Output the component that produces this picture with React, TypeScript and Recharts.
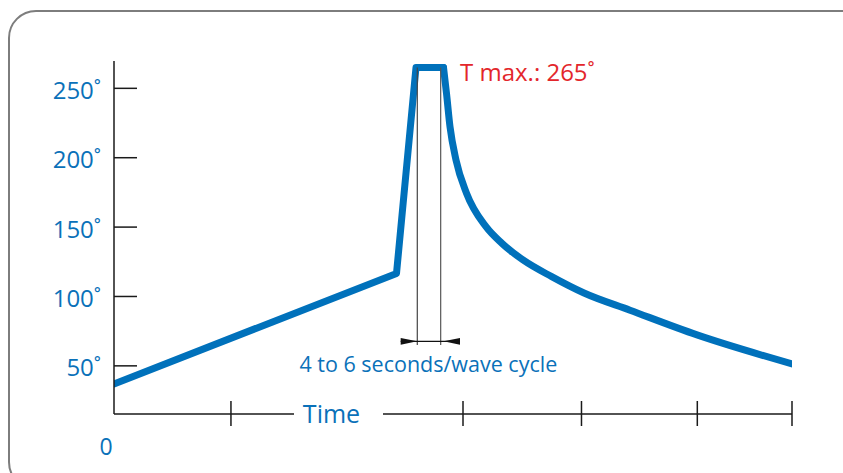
import React from 'react';
import { LineChart, Line, XAxis, YAxis, ReferenceLine, ReferenceDot } from 'recharts';

// time runs in arbitrary units, temperature in degrees
const rampTime = [0, 50, 53.45, 58.32];
const rampTemp = [37, 116.6, 265, 265];
const decayTime = [58.32, 58.85, 59.47, 60.53, 62.39, 65.84, 68.67, 72.39, 77.47, 83.19, 91.33, 103.19, 120];
const decayTemp = [265, 246.4, 222.3, 198.4, 174.4, 150.3, 138.3, 126.3, 114.3, 102.5, 90.1, 72.3, 51.4];

const timeTicks = [0, 20.7, 61.77, 82.74, 103.24, 120];
const tempTicks = [50, 100, 150, 200, 250];

const waveStart = 53.68;
const waveEnd = 57.82;
const guideBottom = 65.1;
const dimLevel = 67.7;
const dimFrom = 50.74;
const dimTo = 61.24;
const tMax = 265;

const BLUE = '#0a71b9';
const LINE = '#0071bb';
const RED = '#e3262b';
const FONT = '"Open Sans", sans-serif';

const rampData = rampTime.map((t, i) => ({ t, temp: rampTemp[i] }));
const decayData = decayTime.map((t, i) => ({ t, temp: decayTemp[i] }));

const YTick = (props: any) => {
  const { x, y, payload } = props;
  return (
    <g>
      <line x1={x} x2={x + 23} y1={y} y2={y} stroke="#1a1a1a" strokeWidth={1.5} />
      <text x={x - 13} y={y + 10.5} textAnchor="end" fill={BLUE} fontSize={24} fontFamily={FONT}>
        {payload.value}˚
      </text>
    </g>
  );
};

const XTick = (props: any) => {
  const { x, y, payload } = props;
  if (payload.value === 0) {
    return (
      <text x={x - 8} y={y + 41} textAnchor="middle" fill={BLUE} fontSize={23} fontFamily={FONT}>
        0
      </text>
    );
  }
  return <line x1={x} x2={x} y1={y - 13} y2={y + 12} stroke="#1a1a1a" strokeWidth={1.5} />;
};

const TimeLabel = (props: any) => {
  const { x, y } = props.viewBox;
  return (
    <g>
      <rect x={x + 180} y={y - 10} width={89} height={20} fill="#fff" />
      <text x={x + 217.5} y={y + 8.7} textAnchor="middle" fill={BLUE} fontSize={25} fontFamily={FONT}>
        Time
      </text>
    </g>
  );
};

const DimShape = (props: any) => {
  const { x1, x2, y1 } = props;
  const mid = (x1 + x2) / 2;
  return (
    <g>
      <line x1={x1} x2={x2} y1={y1} y2={y1} stroke="#111" strokeWidth={1.3} />
      <polygon points={`${x1},${y1 - 3.4} ${x1},${y1 + 3.4} ${x1 + 16.5},${y1}`} fill="#111" />
      <polygon points={`${x2},${y1 - 3.4} ${x2},${y1 + 3.4} ${x2 - 16.5},${y1}`} fill="#111" />
      <text x={mid - 2} y={y1 + 30.4} textAnchor="middle" fill={BLUE} fontSize={21.5} fontFamily={FONT}>
        4 to 6 seconds/wave cycle
      </text>
    </g>
  );
};

const MaxLabel = (props: any) => {
  const { cx, cy } = props;
  return (
    <text x={cx + 16.5} y={cy + 13.4} fill={RED} fontSize={24} fontFamily={FONT}>
      T max.: {tMax}˚
    </text>
  );
};

export default function App() {
  return (
    <div style={{ position: 'fixed', left: 0, top: 0, width: 843, height: 473, overflow: 'hidden', background: '#fff' }}>
      <div
        style={{
          position: 'absolute',
          left: 8,
          top: 10,
          width: 870,
          height: 480,
          border: '2px solid #7d7d7d',
          borderRadius: 28,
          boxSizing: 'border-box',
        }}
      />
      <div style={{ position: 'absolute', left: 0, top: 0 }}>
        <LineChart width={843} height={473} margin={{ top: 61, right: 51, bottom: 29, left: 54 }}>
          <XAxis
            type="number"
            dataKey="t"
            domain={[0, 120]}
            ticks={timeTicks}
            interval={0}
            tickLine={false}
            tickSize={0}
            tickMargin={0}
            tick={<XTick />}
            axisLine={{ stroke: '#1a1a1a', strokeWidth: 1.5 }}
            height={30}
            label={TimeLabel}
            allowDataOverflow
          />
          <YAxis
            type="number"
            domain={[15.3, 269.7]}
            ticks={tempTicks}
            interval={0}
            tickLine={false}
            tickSize={0}
            tickMargin={0}
            tick={<YTick />}
            axisLine={{ stroke: '#1a1a1a', strokeWidth: 1.5 }}
            width={60}
            allowDataOverflow
          />
          <Line
            data={rampData}
            dataKey="temp"
            type="linear"
            stroke={LINE}
            strokeWidth={7}
            strokeLinecap="round"
            strokeLinejoin="round"
            dot={false}
            activeDot={false}
            isAnimationActive={false}
          />
          <Line
            data={decayData}
            dataKey="temp"
            type="monotone"
            stroke={LINE}
            strokeWidth={7}
            strokeLinecap="round"
            strokeLinejoin="round"
            dot={false}
            activeDot={false}
            isAnimationActive={false}
          />
          <ReferenceLine
            segment={[{ x: waveStart, y: tMax }, { x: waveStart, y: guideBottom }]}
            stroke="#444"
            strokeWidth={1.2}
            ifOverflow="visible"
          />
          <ReferenceLine
            segment={[{ x: waveEnd, y: tMax }, { x: waveEnd, y: guideBottom }]}
            stroke="#555"
            strokeWidth={1.2}
            ifOverflow="visible"
          />
          <ReferenceLine
            segment={[{ x: dimFrom, y: dimLevel }, { x: dimTo, y: dimLevel }]}
            shape={DimShape}
            ifOverflow="visible"
          />
          <ReferenceDot x={waveEnd + 0.5} y={tMax} r={0} shape={MaxLabel} ifOverflow="visible" />
        </LineChart>
      </div>
    </div>
  );
}
